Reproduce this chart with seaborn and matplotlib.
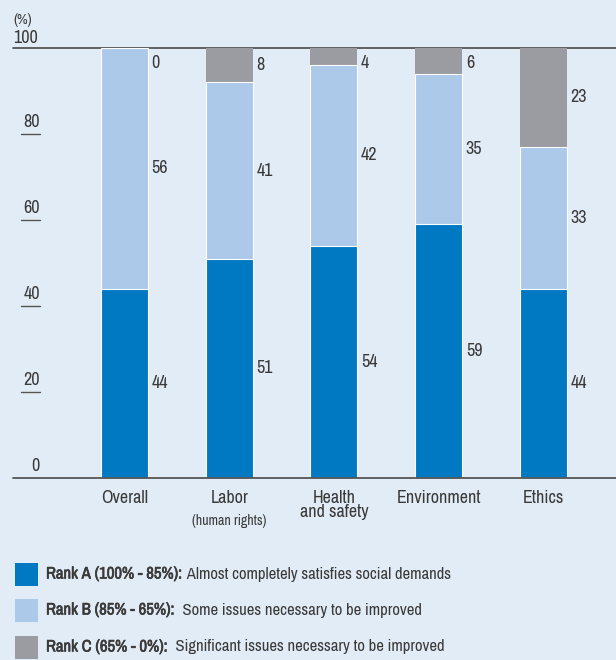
import matplotlib
matplotlib.use("Agg")
import matplotlib.pyplot as plt
import matplotlib.transforms as mtransforms
import matplotlib.patheffects as pe
from matplotlib.patches import Rectangle
from matplotlib import font_manager
import seaborn as sns
import pandas as pd

categories = ["Overall", "Labor", "Health\nand safety", "Environment", "Ethics"]
sublabels = ["", "(human rights)", "", "", ""]
rank_a = [44, 51, 54, 59, 44]
rank_b = [56, 41, 42, 35, 33]
rank_c = [0, 8, 4, 6, 23]
yticks = [0, 20, 40, 60, 80, 100]
legend_bold = ["Rank A (100% - 85%):", "Rank B (85% - 65%):", "Rank C (65% - 0%):"]
legend_text = [" Almost completely satisfies social demands",
               "  Some issues necessary to be improved",
               "  Significant issues necessary to be improved"]

BG = "#e2ecf6"
C_A = "#0079c2"
C_B = "#adc9e9"
C_C = "#9a9ca1"
TXT = "#3a3a3a"

names = sorted({f.name for f in font_manager.fontManager.ttflist})
narrow = [n for n in names if "Narrow" in n or "Condensed" in n]
FONT = narrow[:1] + ["Roboto", "DejaVu Sans"]

sns.set_theme(style="white")
plt.rcParams["font.family"] = FONT

W, H = 616, 660
fig = plt.figure(figsize=(W / 100, H / 100), dpi=100, facecolor=BG)
ax_left, ax_right, ax_top, ax_bot = 13, 616, 48, 478
ax = fig.add_axes([ax_left / W, 1 - ax_bot / H, (ax_right - ax_left) / W, (ax_bot - ax_top) / H])
ax.set_facecolor(BG)

df = pd.DataFrame({"cat": categories, "A": rank_a, "B": rank_b, "C": rank_c})
df["AB"] = df["A"] + df["B"]
df["ABC"] = df["AB"] + df["C"]

bw = 0.45
sns.barplot(data=df, x="cat", y="ABC", color=C_C, saturation=1, width=bw, ax=ax, linewidth=0)
sns.barplot(data=df, x="cat", y="AB", color=C_B, saturation=1, width=bw, ax=ax,
            edgecolor="white", linewidth=0.8)
sns.barplot(data=df, x="cat", y="A", color=C_A, saturation=1, width=bw, ax=ax,
            edgecolor="white", linewidth=0.8)

px_per_unit = 104.7
x0_px = 124.5
ax.set_xlim(-(x0_px - ax_left) / px_per_unit, (ax_right - x0_px) / px_per_unit)
ax.set_ylim(0, 100)
for s in ax.spines.values():
    s.set_visible(False)
ax.set_xticks([])
ax.set_yticks([])
ax.set_xlabel("")
ax.set_ylabel("")

ax.axhline(0, color="#555555", lw=1.3, zorder=5, clip_on=False)
ax.axhline(100, color="#555555", lw=1.3, zorder=0.5, clip_on=False)

blend = mtransforms.blended_transform_factory(ax.transAxes, ax.transData)
axw = ax_right - ax_left
for t in yticks:
    if t == 100:
        ax.text(0, t + 0.4, "100", transform=blend, ha="left", va="bottom",
                fontsize=13, color=TXT)
    else:
        ax.text((40 - ax_left) / axw, t + 1.0, str(t), transform=blend, ha="right",
                va="bottom", fontsize=13, color=TXT)
        if t != 0:
            ax.plot([(21 - ax_left) / axw, (40 - ax_left) / axw], [t, t], transform=blend,
                    color="#555555", lw=1.0, clip_on=False)
fig.text(13 / W, 1 - 20 / H, "(%)", ha="left", va="center", fontsize=10.5, color=TXT)

for i in range(len(categories)):
    segs = [(0, rank_a[i]), (rank_a[i], rank_a[i] + rank_b[i]),
            (rank_a[i] + rank_b[i], rank_a[i] + rank_b[i] + rank_c[i])]
    for lo, hi in segs:
        yc = min((lo + hi) / 2, 96.5)
        ax.text(i + 0.26, yc, str(hi - lo), ha="left", va="center", fontsize=13, color=TXT)

for i, c in enumerate(categories):
    ax.text(i, -2.8, c, ha="center", va="top", fontsize=13, color=TXT, linespacing=0.88)
    if sublabels[i]:
        ax.text(i, -8.3, sublabels[i], ha="center", va="top", fontsize=10, color=TXT)

colors = [C_A, C_B, C_C]
rows_y = [574, 610, 647]
fig.canvas.draw()
renderer = fig.canvas.get_renderer()
for col, yy, b, t in zip(colors, rows_y, legend_bold, legend_text):
    fig.patches.append(Rectangle((15 / W, 1 - (yy + 11.5) / H), 23 / W, 23 / H,
                                 transform=fig.transFigure, facecolor=col, edgecolor="none"))
    tb = fig.text(46 / W, 1 - yy / H, b, ha="left", va="center", fontsize=12,
                  color=TXT, fontweight="bold",
                  path_effects=[pe.withStroke(linewidth=0.45, foreground=TXT)])
    bb = tb.get_window_extent(renderer)
    fig.text((bb.x1 + 1) / W, 1 - yy / H, t, ha="left", va="center", fontsize=12, color=TXT)

fig.savefig("out.png", dpi=100, facecolor=BG)
